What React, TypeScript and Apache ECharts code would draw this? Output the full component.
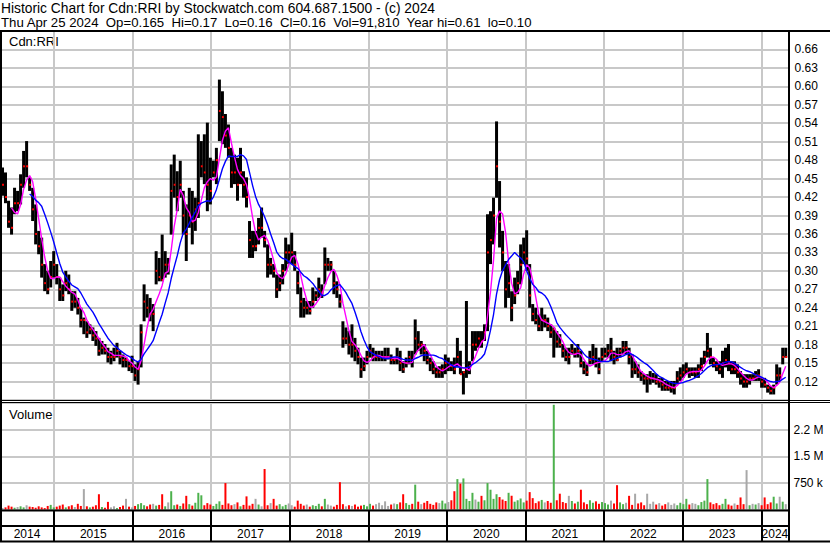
import React, { useEffect, useRef } from 'react';
import * as echarts from 'echarts';

// Bi-weekly bars (prices in cents)
const HI = [
  46.8, 46, 41.4, 40.3, 43.5, 43, 45.7, 49.5, 51.1, 45.2,
  43.5, 40.8, 36.5, 35.4, 31.1, 30, 31.6, 33.2, 31.1, 28.9,
  27.8, 30, 29.4, 26.7, 26.7, 25.6, 24, 22.4, 21.8, 21.3,
  20.8, 20.2, 19.1, 18.6, 18.1, 17.5, 17, 17.5, 18.3, 17,
  16.4, 15.9, 15.3, 16.2, 14.8, 15.3, 21.3, 27.8, 26.2, 25.6,
  24.6, 33.2, 32.1, 35.9, 33.2, 32.1, 47.3, 48.9, 46.2, 47.9,
  43, 40.8, 43.5, 43, 41.9, 52.2, 51.1, 52.2, 54.1, 48.4,
  47.9, 50, 61.1, 59.2, 55.5, 53.8, 50, 48.9, 48.4, 50,
  46.2, 45.2, 38.1, 36.5, 36.5, 38.6, 40.3, 36.5, 34.3, 32.1,
  31.1, 29.4, 29.4, 31.1, 35.4, 34.3, 36.2, 33.2, 30, 27.3,
  25.6, 25.1, 25.1, 27.3, 26.7, 28.9, 27.8, 33.8, 32.1, 31.6,
  30, 28.3, 26.2, 21.8, 20.8, 20.2, 21.3, 19.1, 17.5, 15.9,
  15.9, 17, 18.1, 17.5, 17, 17, 17, 17.5, 17.5, 16.4,
  15.9, 17.5, 17, 15.3, 15.9, 17, 17, 22.1, 20.2, 18.6,
  18.1, 17, 15.9, 15.3, 14.3, 14.5, 14.8, 16.4, 15.9, 15.3,
  15.9, 19.1, 17, 13.7, 25.1, 15.3, 20.2, 20.2, 20.2, 20.2,
  21.3, 39.2, 39.7, 41.9, 54.3, 44.6, 36.5, 31.6, 31.1, 26.7,
  28.9, 30, 34.3, 35.4, 36.6, 31.1, 24.6, 24, 22.9, 24,
  22.9, 22.4, 21.3, 20.8, 20.2, 19.7, 18.1, 17.5, 17.5, 18.1,
  17.5, 18.1, 17, 15.3, 14.8, 17, 18.1, 17.5, 15.9, 17.5,
  17.5, 18.1, 19.1, 17, 17.5, 17.5, 18.6, 18.6, 17.5, 16.4,
  15.3, 14.8, 13.7, 13.2, 13.2, 13.7, 13.4, 13.2, 12.6, 12.6,
  12.1, 12.1, 12.1, 12.1, 13.7, 14.3, 14.8, 15.1, 14.3, 14.3,
  14.3, 14.8, 15.9, 17, 19.9, 17.5, 15.9, 15.3, 15.3, 17,
  17.5, 18.1, 15.3, 15.3, 14.8, 13.7, 13.2, 13.2, 13.2, 13.2,
  13.7, 14, 12.6, 12.6, 11.5, 11.3, 11.5, 14.8, 14.3, 17.5,
  17.5,
];

const LO = [
  42.2, 41, 37, 35.9, 39.2, 39.7, 40.8, 43.5, 45.2, 43,
  38.1, 34.3, 32.7, 28.9, 26.7, 26.2, 27.3, 28.9, 27.8, 25.1,
  25.1, 26.7, 26.2, 23.5, 24, 22.9, 20.8, 19.7, 19.1, 19.7,
  18.6, 17.8, 16.2, 16.4, 16.4, 15.1, 14.8, 15.3, 15.9, 14.8,
  14.3, 14.3, 13.7, 13.4, 12.1, 11.5, 14.3, 21.8, 22.4, 21.8,
  20.2, 27.8, 28.3, 28.3, 28.9, 29.4, 35.9, 41.9, 39.7, 41.9,
  35.9, 31.6, 37, 34.3, 36.5, 38.6, 45.2, 44.1, 39.7, 40.8,
  45.2, 44.1, 51.1, 50.6, 50, 48.4, 43.5, 44.1, 41.4, 44.1,
  41.9, 40.3, 32.1, 32.1, 33.2, 34.3, 35.4, 33.8, 28.9, 29.4,
  28.9, 25.6, 26.7, 27.8, 30, 31.1, 31.1, 30, 26.2, 22.4,
  22.4, 22.9, 22.9, 24, 25.1, 25.6, 25.6, 27.8, 30, 30,
  26.2, 25.6, 24, 17.5, 18.1, 16.4, 15.9, 15.3, 14.8, 12.6,
  13.7, 14.8, 15.9, 15.3, 15.3, 15.3, 15.3, 15.3, 15.6, 14.8,
  14.8, 14.8, 13.7, 13.4, 14.3, 14.8, 14.3, 16.4, 17, 16.4,
  15.3, 14.8, 13.7, 13.2, 12.6, 12.6, 12.6, 13.2, 13.7, 13.7,
  13.2, 14.3, 13.2, 9.9, 12.6, 13.2, 15.3, 17, 17.5, 17.5,
  18.6, 20.2, 31.1, 34.3, 41.9, 33.8, 30, 24, 25.6, 21.8,
  24.6, 26.2, 27.8, 31.1, 30, 24, 21.8, 21.3, 20.2, 20.2,
  20.8, 20.2, 19.1, 15.9, 17.5, 17.5, 15.9, 15.3, 14.8, 16.4,
  15.9, 15.9, 14.3, 13.2, 12.9, 14.8, 14.8, 14.3, 13.2, 15.3,
  15.9, 15.9, 15.3, 14.8, 15.3, 15.9, 16.4, 16.4, 14.8, 12.6,
  13.2, 12.6, 12.1, 11.5, 10.2, 11.5, 11.8, 11.5, 11, 10.5,
  10.5, 10.5, 10.2, 9.9, 11.5, 12.1, 12.6, 13.2, 12.6, 12.9,
  12.6, 12.6, 13.7, 14.8, 15.9, 14.8, 14.3, 13.7, 13.2, 12.6,
  14.3, 13.7, 13.2, 13.2, 12.6, 11.5, 11, 11, 11.5, 12.1,
  12.1, 12.1, 11, 11, 10.2, 9.9, 9.9, 11.5, 12.1, 14.8,
  15.9,
];

const CL = [
  44, 42, 38, 37, 41, 41, 44, 47, 47, 44,
  40, 36, 34, 31, 28, 27, 29, 31, 29, 27,
  26, 28, 27, 25, 25, 24, 22, 22, 20, 20.5,
  19.5, 19, 17, 17.5, 17, 16, 16, 16, 17, 16,
  15.5, 15.5, 14.5, 14.5, 13, 14, 20, 25, 24, 23,
  23, 30, 29, 28.5, 31, 31, 43, 44, 42, 44,
  39, 36, 39, 38, 40, 41, 47, 46, 44, 43,
  46, 48, 56, 55, 52, 50, 46, 46, 44, 46,
  44, 42, 35, 34, 34, 37, 37, 35, 31, 31,
  30, 27, 28, 30, 33, 33, 33, 31, 28, 25,
  24, 24, 23.5, 25, 26, 27, 26.5, 31, 31, 31,
  28, 27, 25, 19, 19, 18, 18, 17, 16, 14,
  14.5, 16, 17, 16, 16, 16, 16, 16, 16, 15.5,
  15.5, 16, 15, 14, 15, 16, 15.5, 19, 18, 18,
  17, 15.5, 15, 14, 13.5, 13.5, 14, 15, 15, 14.5,
  14, 16, 13.2, 13.5, 14, 14.5, 18, 18, 19, 18.5,
  20, 33, 35, 39, 47, 38, 33, 27, 28, 24,
  26, 28, 31, 33, 32, 26, 23, 22, 21, 22,
  22, 21, 20, 20.5, 18.5, 18, 17, 16, 16, 17,
  16.5, 17, 15, 14, 13.5, 15.5, 16, 15, 14, 16,
  16.5, 17, 17, 16, 15.5, 17, 17.5, 17.5, 16, 14,
  14, 13.5, 13, 12.5, 12.5, 12.5, 12.5, 12, 12, 11.5,
  11, 11, 11, 11, 12.5, 13, 13.5, 14, 13.5, 13.5,
  13.5, 14, 14.5, 16, 17, 16, 15, 14.5, 14, 15,
  15.5, 15, 14, 14, 13.5, 12.5, 12, 12, 12.5, 12.5,
  13, 13, 12, 11.5, 11, 10.5, 11, 13, 13, 16,
  16,
];

// Volume per bar, thousands of shares
const VOL_K = [
  40, 60, 110, 80, 50, 70, 90, 60, 120, 80,
  70, 50, 90, 60, 40, 100, 130, 60, 80, 110,
  140, 60, 90, 120, 70, 160, 100, 575, 90, 60,
  80, 120, 430, 70, 50, 215, 60, 90, 40, 70,
  110, 300, 80, 60, 100, 150, 180, 120, 90, 140,
  160, 110, 130, 430, 90, 200, 515, 120, 140, 100,
  170, 385, 150, 110, 190, 470, 400, 120, 180, 140,
  100, 160, 230, 130, 745, 170, 120, 150, 200, 90,
  130, 370, 110, 160, 300, 140, 90, 1140, 120, 180,
  300, 110, 150, 90, 130, 170, 120, 80, 250, 160,
  110, 140, 80, 120, 100, 160, 90, 300, 140, 110,
  80, 130, 770, 150, 90, 120, 100, 140, 80, 110,
  130, 90, 160, 110, 150, 190, 120, 230, 100, 140,
  170, 150, 200, 430, 180, 130, 160, 700, 220, 150,
  190, 240, 160, 130, 200, 180, 250, 170, 210, 260,
  515, 857, 730, 875, 300, 240, 470, 280, 220, 385,
  260, 745, 557, 300, 430, 350, 280, 240, 470, 385,
  220, 260, 310, 200, 250, 490, 320, 180, 230, 270,
  200, 240, 190, 2950, 260, 445, 210, 180, 385, 240,
  170, 220, 557, 200, 150, 260, 190, 230, 160, 210,
  180, 140, 250, 170, 685, 200, 150, 190, 385, 130,
  445, 170, 200, 120, 445, 160, 220, 140, 180, 110,
  150, 200, 130, 170, 120, 190, 150, 300, 140, 180,
  160, 120, 210, 250, 857, 200, 150, 180, 120, 160,
  300, 140, 110, 170, 130, 340, 150, 1110, 120, 160,
  140, 180, 120, 340, 150, 200, 360, 170, 360, 220,
  150,
];

const YEARS = [2014, 2015, 2016, 2017, 2018, 2019, 2020, 2021, 2022, 2023, 2024];

const FIRST_BAR = 2014.345; // date of first bar, in years
const BAR_STEP = 14 / 365.25; // two weeks
const X_MIN = 2014;
const X_MAX = 2024.346;

const MA_SHORT = 4;
const MA_LONG = 10;

const FONT = "'Liberation Sans', Arial, sans-serif";

const HEADER1 = 'Historic Chart for Cdn:RRI by Stockwatch.com 604.687.1500 - (c) 2024';
const HEADER2 =
  'Thu Apr 25 2024  Op=0.165  Hi=0.17  Lo=0.16  Cl=0.16  Vol=91,810  Year hi=0.61  lo=0.10';

function barTime(i: number) {
  return FIRST_BAR + i * BAR_STEP;
}

function movingAverage(vals: number[], n: number) {
  const out: number[][] = [];
  for (let i = 0; i < vals.length; i++) {
    if (i < n - 1) continue;
    let s = 0;
    for (let k = i - n + 1; k <= i; k++) s += vals[k];
    out.push([barTime(i), s / n / 100]);
  }
  return out;
}

export default function App() {
  const ref = useRef<HTMLDivElement>(null);

  useEffect(() => {
    if (!ref.current) return;
    const chart = echarts.init(ref.current, undefined, { renderer: 'svg' });

    const priceData = HI.map((h, i) => [barTime(i), LO[i] / 100, h / 100, CL[i] / 100]);
    const volData = VOL_K.map((v, i) => {
      const dir = i === 0 ? 0 : CL[i] - CL[i - 1];
      return [barTime(i), v * 1000, dir > 0 ? 1 : dir < 0 ? -1 : 0];
    });

    const gridLeft = -24.6;
    const gridRight = 41.5;

    const gridBase = { left: gridLeft, right: gridRight, outerBoundsMode: 'none', containLabel: false };

    const xBase = {
      type: 'value',
      min: X_MIN,
      max: X_MAX,
      interval: 1,
      axisLabel: { show: false },
      axisTick: { show: false },
      axisLine: { show: false },
    };

    const option: any = {
      animation: false,
      backgroundColor: '#ffffff',
      grid: [
        { ...gridBase, top: 31, height: 369 },
        { ...gridBase, top: 403, height: 106.5 },
        { ...gridBase, top: 510, height: 31 },
      ],
      xAxis: [
        { ...xBase, gridIndex: 0, splitLine: { show: true, lineStyle: { color: '#c8c8c8', width: 2 } } },
        { ...xBase, gridIndex: 1, splitLine: { show: true, lineStyle: { color: '#c8c8c8', width: 2 } } },
        { ...xBase, gridIndex: 2, splitLine: { show: true, lineStyle: { color: '#000000', width: 2 } } },
      ],
      yAxis: [
        {
          gridIndex: 0,
          type: 'value',
          position: 'right',
          min: 0.09,
          max: 0.69,
          interval: 0.03,
          axisLine: { show: false },
          axisTick: { show: false },
          splitLine: { show: true, lineStyle: { color: '#c8c8c8', width: 2 } },
          axisLabel: {
            margin: 6,
            color: '#000',
            fontSize: 12,
            fontFamily: FONT,
            formatter: (v: number) => (v < 0.1 || v > 0.67 ? '' : v.toFixed(2)),
          },
        },
        {
          gridIndex: 1,
          type: 'value',
          position: 'right',
          min: 0,
          max: 3000000,
          interval: 750000,
          axisLine: { show: false },
          axisTick: { show: false },
          splitLine: { show: true, lineStyle: { color: '#c8c8c8', width: 2 } },
          axisLabel: {
            margin: 5,
            color: '#000',
            fontSize: 12,
            fontFamily: FONT,
            formatter: (v: number) =>
              v === 750000 ? '750 k' : v === 1500000 ? '1.5 M' : v === 2250000 ? '2.2 M' : '',
          },
        },
        {
          gridIndex: 2,
          type: 'value',
          min: 0,
          max: 1,
          show: false,
        },
      ],
      series: [
        {
          type: 'custom',
          name: 'price',
          xAxisIndex: 0,
          yAxisIndex: 0,
          data: priceData,
          encode: { x: 0, y: [1, 2, 3] },
          renderItem: (params: any, api: any) => {
            const t = api.value(0);
            const pLo = api.coord([t, api.value(1)]);
            const pHi = api.coord([t, api.value(2)]);
            const pCl = api.coord([t, api.value(3)]);
            return {
              type: 'group',
              children: [
                {
                  type: 'rect',
                  shape: { x: pLo[0] - 1.5, y: pHi[1], width: 3, height: Math.max(1, pLo[1] - pHi[1]) },
                  style: { fill: '#000000' },
                },
                {
                  type: 'rect',
                  shape: { x: pCl[0] - 0.5, y: pCl[1] - 1, width: 2, height: 2 },
                  style: { fill: '#ff0000' },
                },
              ],
            };
          },
          z: 2,
        },
        {
          type: 'line',
          name: 'ma short',
          xAxisIndex: 0,
          yAxisIndex: 0,
          data: movingAverage(CL, MA_SHORT),
          showSymbol: false,
          lineStyle: { color: '#ff00ff', width: 1.4 },
          z: 3,
        },
        {
          type: 'line',
          name: 'ma long',
          xAxisIndex: 0,
          yAxisIndex: 0,
          data: movingAverage(CL, MA_LONG),
          showSymbol: false,
          lineStyle: { color: '#0000ff', width: 1.4 },
          z: 4,
        },
        {
          type: 'custom',
          name: 'volume',
          xAxisIndex: 1,
          yAxisIndex: 1,
          data: volData,
          encode: { x: 0, y: 1 },
          renderItem: (params: any, api: any) => {
            const t = api.value(0);
            const p0 = api.coord([t, 0]);
            const p1 = api.coord([t, api.value(1)]);
            const d = api.value(2);
            return {
              type: 'rect',
              shape: { x: p0[0] - 1, y: p1[1], width: 2, height: Math.max(1, p0[1] - p1[1]) },
              style: { fill: d > 0 ? '#4cb14c' : d < 0 ? '#ff0000' : '#a8a8a8' },
            };
          },
        },
        {
          type: 'custom',
          name: 'years',
          xAxisIndex: 2,
          yAxisIndex: 2,
          data: YEARS.map((y) => [y]),
          encode: { x: 0 },
          renderItem: (params: any, api: any) => {
            const y = api.value(0);
            const a = Math.max(api.coord([y, 0.22])[0], 0);
            const b = api.coord([Math.min(y + 1, X_MAX), 0.22])[0];
            const py = api.coord([y, 0.22])[1];
            return {
              type: 'text',
              style: {
                x: (a + b) / 2,
                y: py,
                text: String(y),
                fill: '#000',
                font: `12px ${FONT}`,
                align: 'center',
                verticalAlign: 'middle',
              },
            };
          },
        },
      ],
      graphic: [
        { type: 'text', left: 1, top: 1, style: { text: HEADER1, fill: '#000', font: `13.8px ${FONT}` } },
        { type: 'text', left: 1, top: 16, style: { text: HEADER2, fill: '#000', font: `13.2px ${FONT}` } },
        { type: 'text', x: 9, y: 41, style: { text: 'Cdn:RRI', fill: '#000', font: `13px ${FONT}`, verticalAlign: 'middle' } },
        { type: 'text', x: 9, y: 414, style: { text: 'Volume', fill: '#000', font: `13px ${FONT}`, verticalAlign: 'middle' } },
        // frame
        { type: 'rect', shape: { x: 0, y: 30, width: 830, height: 2 }, style: { fill: '#000' }, z: 100 },
        { type: 'rect', shape: { x: 0, y: 30, width: 2, height: 512 }, style: { fill: '#000' }, z: 100 },
        { type: 'rect', shape: { x: 788, y: 30, width: 2, height: 512 }, style: { fill: '#000' }, z: 100 },
        { type: 'rect', shape: { x: 0, y: 400, width: 830, height: 1 }, style: { fill: '#000' }, z: 100 },
        { type: 'rect', shape: { x: 0, y: 402, width: 830, height: 1 }, style: { fill: '#000' }, z: 100 },
        { type: 'rect', shape: { x: 0, y: 509.5, width: 790, height: 2 }, style: { fill: '#000' }, z: 100 },
        { type: 'rect', shape: { x: 0, y: 525, width: 790, height: 2 }, style: { fill: '#000' }, z: 100 },
        { type: 'rect', shape: { x: 0, y: 540.5, width: 830, height: 2 }, style: { fill: '#000' }, z: 100 },
      ],
    };

    chart.setOption(option);
    return () => chart.dispose();
  }, []);

  return (
    <div
      ref={ref}
      style={{ position: 'absolute', left: 0, top: 0, width: 830, height: 543, background: '#fff' }}
    />
  );
}
